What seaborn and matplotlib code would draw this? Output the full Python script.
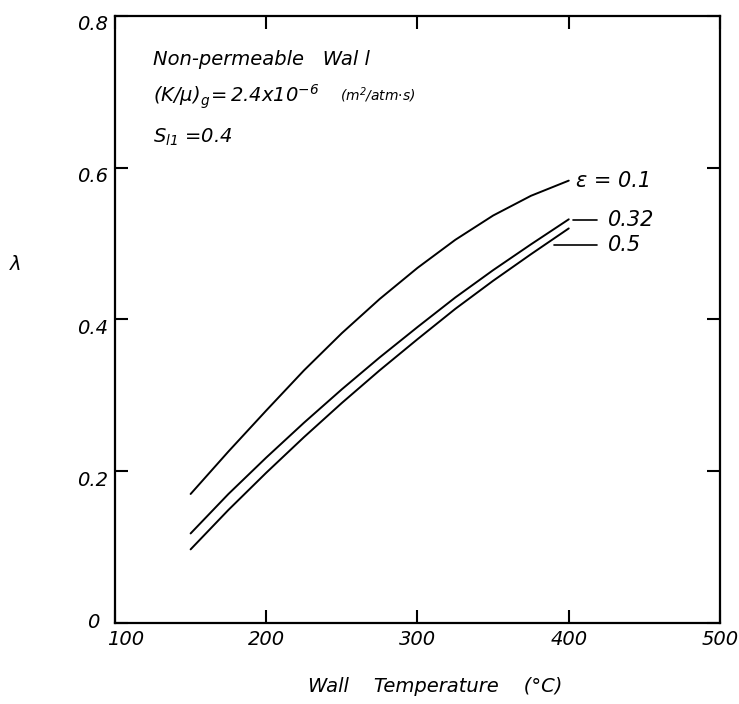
import numpy as np
import pandas as pd
import seaborn as sns
import matplotlib.pyplot as plt
from matplotlib.transforms import ScaledTranslation

# values
wall_temp = [150, 175, 200, 225, 250, 275, 300, 325, 350, 375, 400]
lam_eps_01 = [0.170, 0.226, 0.280, 0.333, 0.382, 0.427, 0.468, 0.505, 0.537, 0.563, 0.583]
lam_eps_032 = [0.118, 0.170, 0.218, 0.264, 0.308, 0.350, 0.390, 0.429, 0.465, 0.499, 0.532]
lam_eps_05 = [0.097, 0.149, 0.198, 0.245, 0.290, 0.333, 0.374, 0.414, 0.451, 0.486, 0.520]
eps_labels = ["0.1", "0.32", "0.5"]

x_ticks = [100, 200, 300, 400, 500]
y_ticks = [0, 0.2, 0.4, 0.6, 0.8]
y_ticklabels = ["0", "0.2", "0.4", "0.6", "0.8"]

df = pd.DataFrame({
    "T": wall_temp * 3,
    "lam": lam_eps_01 + lam_eps_032 + lam_eps_05,
    "eps": [e for e in eps_labels for _ in wall_temp],
})

sns.set_style("ticks")
plt.rcParams["font.family"] = ["DejaVu Sans"]
plt.rcParams["font.style"] = "italic"
plt.rcParams["mathtext.default"] = "it"
plt.rcParams["mathtext.fontset"] = "dejavusans"
for k in ["text.color", "axes.labelcolor", "xtick.color", "ytick.color", "axes.edgecolor"]:
    plt.rcParams[k] = "black"

fig = plt.figure(figsize=(7.39, 7.04), dpi=100)
ax = fig.add_axes([0.1556, 0.1151, 0.8187, 0.8622])

sns.lineplot(data=df, x="T", y="lam", hue="eps", palette=["black"] * 3,
             linewidth=1.4, legend=False, ax=ax)

ax.set_xlim(100, 500)
ax.set_ylim(0, 0.8)
ax.set_xticks(x_ticks)
ax.set_xticklabels([str(t) for t in x_ticks], fontsize=14, style="italic")
ax.set_yticks(y_ticks)
ax.set_yticklabels(y_ticklabels, fontsize=14, style="italic")
ax.tick_params(direction="in", length=9.5, width=1.5, top=True, right=True, pad=5)
for side in ax.spines.values():
    side.set_linewidth(1.6)

# nudge tick labels like the original
down = ScaledTranslation(0, -5 / 72, fig.dpi_scale_trans)
for lab in ax.get_yticklabels()[1:]:
    lab.set_transform(lab.get_transform() + down)
zero = ax.get_yticklabels()[0]
zero.set_transform(zero.get_transform() + ScaledTranslation(-6 / 72, 2 / 72, fig.dpi_scale_trans))
first = ax.get_xticklabels()[0]
first.set_transform(first.get_transform() + ScaledTranslation(8 / 72, 0, fig.dpi_scale_trans))

ax.set_xlabel("Wall    Temperature    (°C)", fontsize=14, style="italic")
ax.xaxis.set_label_coords(0.53, -0.105)
ax.xaxis.label.set_va("center")
ax.set_ylabel("")
ax.text(-0.165, 0.59, "λ", transform=ax.transAxes, fontsize=14, ha="center", va="center")

# info block
ax.text(125, 0.742, "Non-permeable   Wal l", fontsize=14, va="center")
ax.text(125, 0.693, r"$(K/\mu)_g\!=2.4x10^{-6}$", fontsize=14, va="center")
ax.text(249, 0.695, r"(m$^2$/atm$\cdot$s)", fontsize=10, va="center")
ax.text(125, 0.640, r"$S_{l1}$ =0.4", fontsize=14, va="center")

# curve labels
ax.text(405, 0.583, "ε = 0.1", fontsize=15, va="center")
ax.plot([403, 419], [0.531, 0.531], color="black", lw=1.2)
ax.text(426, 0.531, "0.32", fontsize=15, va="center")
ax.plot([390, 419], [0.498, 0.498], color="black", lw=1.2)
ax.text(426, 0.498, "0.5", fontsize=15, va="center")

fig.savefig("out.png", dpi=100)
